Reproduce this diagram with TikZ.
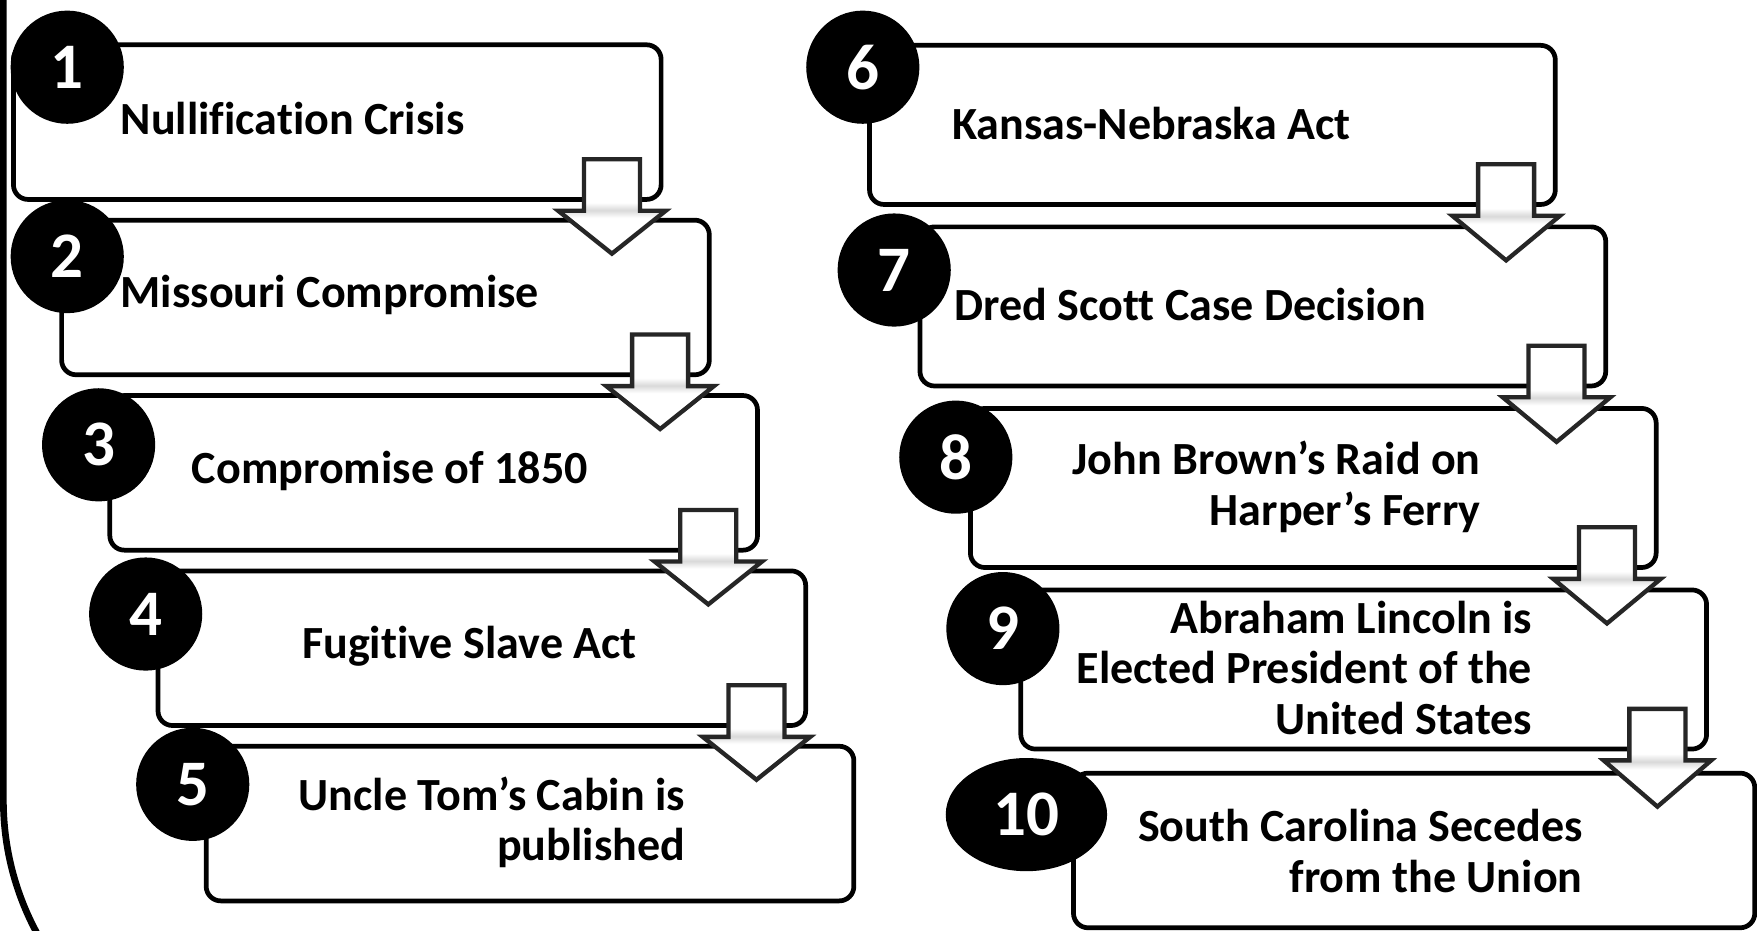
\documentclass[tikz,border=0pt]{standalone}
\usepackage{fontspec}
\setmainfont{Carlito}[Ligatures=NoCommon]
\usetikzlibrary{shapes.geometric,calc}

\pgfdeclareverticalshading{arrowband}{100bp}{color(0bp)=(white); color(44bp)=(white); color(48bp)=(black!15); color(52bp)=(white); color(100bp)=(white)}

\tikzset{
    stepbox/.style={draw, line width=1.2pt, rounded corners=1.3mm, fill=white, inner sep=0pt},
    numdot/.style={ellipse, fill=black, text=white, inner sep=0pt, minimum width=10.1mm, minimum height=10.1mm, font=\fontsize{16.5}{16.5}\selectfont\bfseries},
    steptext/.style={inner sep=0pt, font=\fontsize{11.7}{12.8}\selectfont\bfseries},
    blockarrow/.style={draw=black!85, line width=1.1pt, shade, shading=arrowband}
}

% hollow down arrow from one box into the next
\newcommand{\linkarrow}[2]{%
    \coordinate (#1-a) at ($(#1.south east)+(-4.6,0)$);
    \draw[blockarrow] ($(#1-a)+(-2.5,3.8)$) -- ($(#1-a)+(2.5,3.8)$) -- ($(#1-a)+(2.5,-0.8)$)
        -- ($(#1-a)+(4.8,-0.8)$) -- ($(#1-a |- #2.north)+(0,-3.2)$)
        -- ($(#1-a)+(-4.8,-0.8)$) -- ($(#1-a)+(-2.5,-0.8)$) -- cycle;
}

\begin{document}
\begin{tikzpicture}[x=1mm, y=1mm]
    \useasboundingbox (0,0) rectangle (156.8,83);
    \clip (0,0) rectangle (156.8,83);

    % frame
    \draw[line width=1.7pt] (0.3,85) -- (0.3,11.6) arc (180:270:25);

    % left column
    \node[stepbox, minimum width=57.8mm, minimum height=13.8mm] (box1) at (30.1,72.1) {};
    \node[stepbox, minimum width=57.8mm, minimum height=13.8mm] (box2) at (34.4,56.45) {};
    \node[stepbox, minimum width=57.8mm, minimum height=13.8mm] (box3) at (38.7,40.8) {};
    \node[stepbox, minimum width=57.8mm, minimum height=13.8mm] (box4) at (43.0,25.15) {};
    \node[stepbox, minimum width=57.8mm, minimum height=13.8mm] (box5) at (47.3,9.5) {};

    % right column
    \node[stepbox, minimum width=61.2mm, minimum height=14.2mm] (box6) at (108.2,71.85) {};
    \node[stepbox, minimum width=61.2mm, minimum height=14.2mm] (box7) at (112.7,55.65) {};
    \node[stepbox, minimum width=61.2mm, minimum height=14.2mm] (box8) at (117.2,39.45) {};
    \node[stepbox, minimum width=61.2mm, minimum height=14.2mm] (box9) at (121.7,23.25) {};
    \node[stepbox, minimum width=60.8mm, minimum height=13.8mm] (box10) at (126.2,7.1) {};

    % numbers
    \node[numdot] (num1) at (6.0,77.0) {1};
    \node[numdot] (num2) at (6.0,60.1) {2};
    \node[numdot] (num3) at (8.8,43.3) {3};
    \node[numdot] (num4) at (13.0,28.2) {4};
    \node[numdot] (num5) at (17.2,13.0) {5};
    \node[numdot] (num6) at (77.0,77.0) {6};
    \node[numdot] (num7) at (79.8,58.9) {7};
    \node[numdot] (num8) at (85.3,42.2) {8};
    \node[numdot] (num9) at (89.5,26.9) {9};
    \node[numdot, minimum width=14.4mm] (num10) at (91.6,10.3) {10};

    % labels
    \node[steptext, anchor=west] (lbl1) at (10.7,72.4) {Nullification Crisis};
    \node[steptext, anchor=west] (lbl2) at (10.7,56.7) {Missouri Compromise};
    \node[steptext] (lbl3) at (34.8,41.0) {Compromise of 1850};
    \node[steptext] (lbl4) at (41.9,25.3) {Fugitive Slave Act};
    \node[steptext, anchor=east, align=right] (lbl5) at (61.2,9.6) {Uncle Tom’s Cabin is\\published};
    \node[steptext, anchor=west] (lbl6) at (84.9,72.0) {Kansas-Nebraska Act};
    \node[steptext, anchor=west] (lbl7) at (85.1,55.8) {Dred Scott Case Decision};
    \node[steptext, anchor=east, align=right] (lbl8) at (132.2,39.55) {John Brown’s Raid on\\Harper’s Ferry};
    \node[steptext, anchor=east, align=right] (lbl9) at (136.8,23.4) {Abraham Lincoln is\\Elected President of the\\United States};
    \node[steptext, anchor=east, align=right] (lbl10) at (141.3,7.05) {South Carolina Secedes\\from the Union};

    % arrows
    \linkarrow{box1}{box2}
    \linkarrow{box2}{box3}
    \linkarrow{box3}{box4}
    \linkarrow{box4}{box5}
    \linkarrow{box6}{box7}
    \linkarrow{box7}{box8}
    \linkarrow{box8}{box9}
    \linkarrow{box9}{box10}
\end{tikzpicture}
\end{document}
